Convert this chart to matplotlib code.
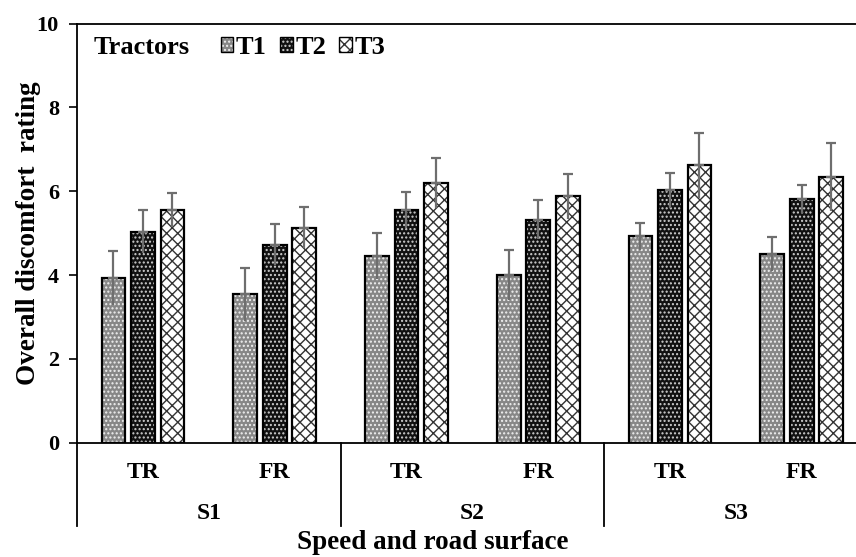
import numpy as np
import matplotlib
matplotlib.use("Agg")
import matplotlib.pyplot as plt
from matplotlib.patches import Patch
from matplotlib.transforms import blended_transform_factory

plt.rcParams["font.family"] = ["Liberation Serif", "DejaVu Serif"]
plt.rcParams["font.weight"] = "bold"
plt.rcParams["hatch.linewidth"] = 1.0

# data
conditions = ["TR", "FR", "TR", "FR", "TR", "FR"]
speeds = ["S1", "S2", "S3"]
tractors = ["T1", "T2", "T3"]

t1_mean = [3.93, 3.54, 4.45, 4.00, 4.93, 4.50]
t2_mean = [5.04, 4.72, 5.55, 5.32, 6.02, 5.82]
t3_mean = [5.56, 5.13, 6.19, 5.88, 6.62, 6.34]

t1_err = [0.65, 0.64, 0.55, 0.59, 0.32, 0.40]
t2_err = [0.52, 0.49, 0.43, 0.47, 0.42, 0.34]
t3_err = [0.41, 0.49, 0.60, 0.53, 0.78, 0.81]

styles = [
    {"face": "#878787", "hatch": "....", "hcolor": "#f0f0f0"},
    {"face": "#111111", "hatch": "....", "hcolor": "#d0d0d0"},
    {"face": "white", "hatch": "xxx", "hcolor": "#333333"},
]

fig = plt.figure(figsize=(8.56, 5.57), dpi=100)
ax = fig.add_axes([0.090, 0.2052, 0.9235, 0.7523])

x = np.arange(len(conditions))
width = 0.18
step = 0.224
means = [t1_mean, t2_mean, t3_mean]
errs = [t1_err, t2_err, t3_err]

handles = []
for i, (m, e, st) in enumerate(zip(means, errs, styles)):
    xpos = x + (i - 1) * step
    ax.bar(xpos, m, width, color=st["face"], linewidth=0, zorder=2)
    ax.bar(xpos, m, width, facecolor="none", edgecolor=st["hcolor"],
           hatch=st["hatch"], linewidth=0, zorder=3)
    ax.bar(xpos, m, width, facecolor="none", edgecolor="black",
           linewidth=1.6, zorder=4)
    # lower half of the error bar, no cap
    ax.errorbar(xpos, m, yerr=[e, np.zeros(len(e))], fmt="none",
                ecolor="#6e6e6e", elinewidth=1.6, capsize=0, zorder=5)
    ax.errorbar(xpos, m, yerr=[np.zeros(len(e)), e], fmt="none",
                ecolor="#6e6e6e", elinewidth=1.6, capsize=3.5,
                capthick=1.6, zorder=5)
    handles.append((
        Patch(facecolor=st["face"], linewidth=0),
        Patch(facecolor="none", edgecolor=st["hcolor"], hatch=st["hatch"], linewidth=0),
        Patch(facecolor="none", edgecolor="black", linewidth=1.0),
    ))

ax.set_xlim(-0.5, 5.5)
ax.set_ylim(0, 10)
ax.set_yticks([0, 2, 4, 6, 8, 10])
ax.tick_params(axis="y", direction="out", length=6, width=1.2, labelsize=16, pad=7)
ax.set_xticks(x)
ax.set_xticklabels(conditions, fontsize=17)
ax.tick_params(axis="x", length=0, pad=14)

for side in ["left", "bottom", "top"]:
    ax.spines[side].set_linewidth(1.3)
ax.spines["right"].set_visible(False)

trans = blended_transform_factory(ax.transData, ax.transAxes)
for xd in [-0.5, 1.5, 3.5, 5.5]:
    ax.plot([xd, xd], [0, -0.198], color="black", linewidth=1.3,
            transform=trans, clip_on=False)
for k, s in enumerate(speeds):
    ax.text(2 * k + 0.5, -0.168, s, transform=trans, ha="center",
            va="center", fontsize=17, fontweight="bold")

ax.set_ylabel("Overall discomfort  rating", fontsize=19.5, fontweight="bold", labelpad=-3)
fig.text(0.506, 0.026, "Speed and road surface", ha="center", va="center",
         fontsize=19.5, fontweight="bold")

ax.text(0.021, 0.944, "Tractors", transform=ax.transAxes, ha="left",
        va="center", fontsize=19, fontweight="bold")
ax.legend(handles, tractors, loc="center left", bbox_to_anchor=(0.1815, 0.9435),
          ncol=3, frameon=False, fontsize=19, handlelength=0.48,
          handleheight=0.48, handletextpad=0.1, columnspacing=0.5,
          borderpad=0, borderaxespad=0)

fig.savefig("out.png", dpi=100)
